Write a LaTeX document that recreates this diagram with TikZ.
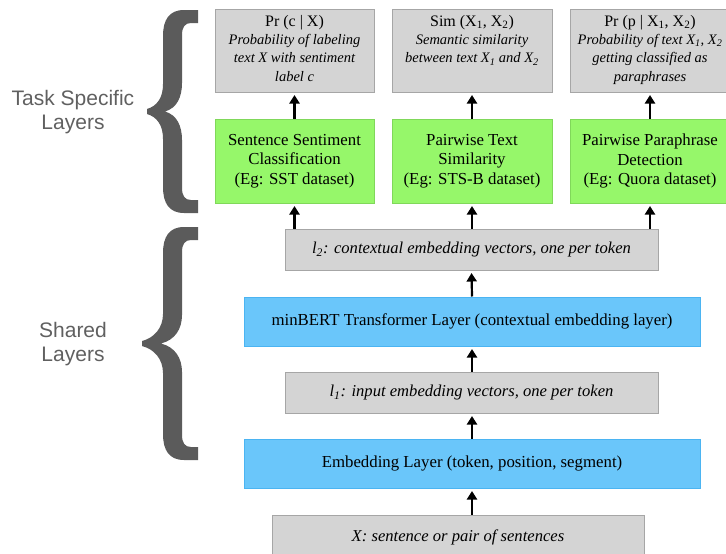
\documentclass[tikz,border=0pt]{standalone}
\usepackage{fontspec}
\setmainfont{Liberation Serif}
\newfontfamily\lblfont{Liberation Sans}
\usetikzlibrary{arrows.meta}
\definecolor{grayfill}{HTML}{D4D4D4}
\definecolor{grayline}{HTML}{A6A6A6}
\definecolor{greenfill}{HTML}{96F76A}
\definecolor{greenline}{HTML}{80D85A}
\definecolor{bluefill}{HTML}{6AC6FA}
\definecolor{blueline}{HTML}{4BB4F2}
\definecolor{bracecol}{HTML}{5B5B5B}
\definecolor{lblcol}{HTML}{606060}
\begin{document}
\begin{tikzpicture}[x=1pt,y=-1pt,
  graybox/.style={draw=grayline,fill=grayfill,line width=1pt,inner sep=0pt},
  greenbox/.style={draw=greenline,fill=greenfill,line width=1pt,inner sep=0pt,minimum width=159pt,minimum height=84pt,align=center,font=\fontsize{16.8}{19.5}\selectfont},
  bluebox/.style={draw=blueline,fill=bluefill,line width=1pt,inner sep=0pt,minimum width=456pt,minimum height=49pt,font=\fontsize{16.8}{19}\selectfont},
  italbox/.style={graybox,minimum width=373pt,minimum height=41pt,font=\fontsize{16.6}{19}\selectfont\itshape},
  outtext/.style={anchor=north,align=center,inner sep=0pt,font=\fontsize{14.5}{18.3}\selectfont},
  arr/.style={line width=2.2pt,-{Triangle[width=10pt,length=8.5pt]},shorten >=2.5pt},
  lbl/.style={align=center,text=lblcol,font=\lblfont\fontsize{21}{24}\selectfont,inner sep=0pt}
]
\useasboundingbox (0,0) rectangle (726,554);

% braces
\fill[bracecol] (198,10) -- (184,10) .. controls (169,10) and (163,20) .. (163,36) -- (163,84) .. controls (163,98) and (157,106) .. (147,109) -- (147,114) .. controls (157,117) and (163,125) .. (163,139) -- (163,187) .. controls (163,203) and (169,213) .. (184,213) -- (198,213) -- (198,200) -- (191,200) .. controls (185,200) and (182,196) .. (182,188) -- (182,140) .. controls (182,126) and (177,115) .. (165,111.5) .. controls (177,108) and (182,97) .. (182,83) -- (182,35) .. controls (182,27) and (185,23) .. (191,23) -- (198,23) -- cycle;
\fill[bracecol] (198,227) -- (184,227) .. controls (169,227) and (163,237) .. (163,253) -- (163,314) .. controls (163,328) and (154,338) .. (142,341) -- (142,346) .. controls (154,349) and (163,359) .. (163,373) -- (163,434) .. controls (163,450) and (169,460) .. (184,460) -- (198,460) -- (198,447) -- (191,447) .. controls (185,447) and (182,443) .. (182,435) -- (182,372) .. controls (182,358) and (175,347) .. (161,343.5) .. controls (175,340) and (182,329) .. (182,315) -- (182,252) .. controls (182,244) and (185,240) .. (191,240) -- (198,240) -- cycle;

\node[lbl] (tasklbl) at (73,112) {Task Specific\\Layers};
\node[lbl] (sharedlbl) at (73,344) {Shared\\Layers};

% output boxes
\node[graybox,minimum width=159pt,minimum height=83pt] (out1) at (294.5,50.5) {};
\node[graybox,minimum width=160pt,minimum height=83pt] (out2) at (472,50.5) {};
\node[graybox,minimum width=160pt,minimum height=83pt] (out3) at (650,50.5) {};
\node[outtext] (t1) at (294.5,15) {{\fontsize{16}{18.3}\selectfont Pr (c | X)}\\\itshape Probability of labeling\\\itshape text X with sentiment\\\itshape label c};
\node[outtext] (t2) at (472,15) {{\fontsize{16}{18.3}\selectfont Sim (X\textsubscript{1}, X\textsubscript{2})}\\\itshape Semantic similarity\\\itshape between text X\textsubscript{1} and X\textsubscript{2}};
\node[outtext] (t3) at (650,15) {{\fontsize{16}{18.3}\selectfont Pr (p | X\textsubscript{1}, X\textsubscript{2})}\\\itshape Probability of text X\textsubscript{1}, X\textsubscript{2}\\\itshape getting classified as\\\itshape paraphrases};

% task boxes
\node[greenbox] (task1) at (294.5,161) {Sentence Sentiment\\Classification\\(Eg: SST dataset)};
\node[greenbox,minimum width=160pt] (task2) at (472,161) {Pairwise Text\\Similarity\\(Eg: STS-B dataset)};
\node[greenbox,minimum width=160pt] (task3) at (650,161) {Pairwise Paraphrase\\Detection\\(Eg: Quora dataset)};

% shared
\node[italbox] (l2) at (471.5,249.5) {l\textsubscript{2}: contextual embedding vectors, one per token};
\node[bluebox] (bert) at (472,321.5) {minBERT Transformer Layer (contextual embedding layer)};
\node[italbox] (l1) at (471.5,392.5) {l\textsubscript{1}: input embedding vectors, one per token};
\node[bluebox] (emb) at (472,463.5) {Embedding Layer (token, position, segment)};
\node[italbox,minimum width=372pt,minimum height=44pt] (xin) at (458,537) {X: sentence or pair of sentences};

% arrows
\draw[arr] (task1.north) -- (out1.south);
\draw[arr] (task2.north) -- (out2.south);
\draw[arr] (task3.north) -- (out3.south);
\draw[arr] (l2.north -| task1.south) -- (task1.south);
\draw[arr] (l2.north -| task2.south) -- (task2.south);
\draw[arr] (l2.north -| task3.south) -- (task3.south);
\draw[arr] (bert.north) -- (l2.south);
\draw[arr] (l1.north -| bert.south) -- (bert.south);
\draw[arr] (emb.north) -- (l1.south -| emb.north);
\draw[arr] (xin.north -| emb.south) -- (emb.south);
\end{tikzpicture}
\end{document}
